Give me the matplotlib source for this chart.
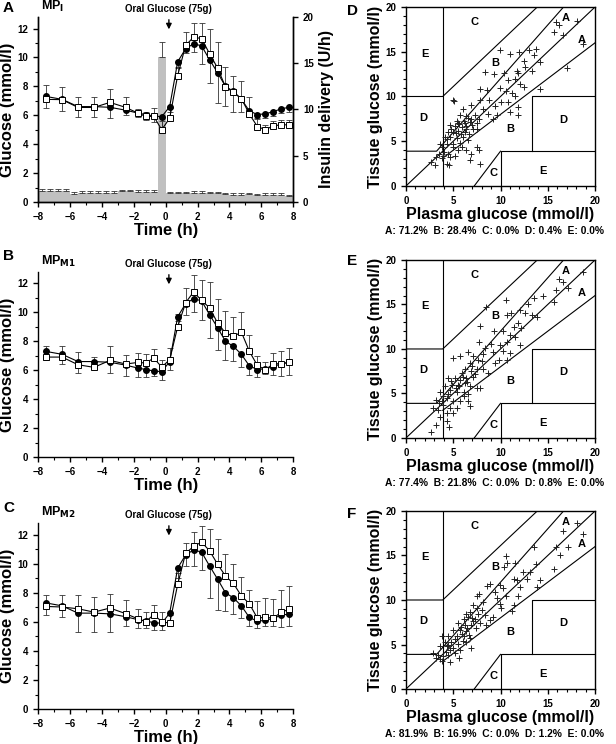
import numpy as np
import matplotlib
matplotlib.use("Agg")
import matplotlib.pyplot as plt
from matplotlib.ticker import MultipleLocator

plt.rcParams['font.family'] = ['Liberation Sans', 'DejaVu Sans']
plt.rcParams['font.weight'] = 'bold'
plt.rcParams['axes.labelweight'] = 'bold'
plt.rcParams['axes.linewidth'] = 1.0

# ---- time course data ----
time_h = [-7.5, -6.5, -5.5, -4.5, -3.5, -2.5, -1.75, -1.25, -0.75, -0.25, 0.25, 0.75, 1.25,
          1.75, 2.25, 2.75, 3.25, 3.75, 4.25, 4.75, 5.25, 5.75, 6.25, 6.75, 7.25, 7.75]
plasma = [7.3, 7.1, 6.6, 6.6, 6.55, 6.35, 6.15, 6.05, 5.95, 5.9, 6.6, 9.7, 10.6,
          10.95, 10.8, 9.85, 8.95, 8.0, 7.65, 7.1, 6.3, 6.05, 6.1, 6.25, 6.45, 6.55]

tissue_A = [7.1, 7.08, 6.54, 6.54, 6.89, 6.54, 6.15, 5.92, 5.92, 5.0, 5.8, 8.75, 10.83,
            11.41, 11.3, 10.26, 9.28, 7.96, 7.59, 7.15, 6.08, 5.22, 5.0, 5.27, 5.34, 5.34]
up_A = [1.0, 0.85, 0.75, 0.75, 0.9, 0.75, 0.3, 0.3, 0.6, 0.6, 0.7, 0.6, 0.9,
        0.95, 1.1, 1.7, 1.8, 1.35, 1.15, 1.2, 1.2, 0.6, 0.35, 0.35, 0.35, 0.35]
lo_A = [0.8, 0.8, 0.75, 0.75, 0.75, 0.3, 0.3, 0.35, 0.4, 0.7, 0.4, 0.4, 0.3,
        0.55, 1.25, 1.65, 2.1, 1.35, 1.4, 0.9, 0.4, 0.3, 0.3, 0.3, 0.3, 0.3]

tissue_B = [6.91, 6.91, 6.38, 6.2, 6.68, 6.43, 6.54, 6.5, 6.84, 6.22, 6.73, 9.0, 10.67,
            11.42, 10.83, 10.32, 9.28, 8.58, 8.35, 8.63, 7.31, 6.33, 6.03, 6.45, 6.45, 6.54]
up_B = [0.8, 0.8, 0.85, 0.7, 1.0, 0.65, 0.65, 0.6, 0.65, 0.5, 0.8, 0.9, 1.05,
        1.2, 1.4, 1.75, 1.65, 1.5, 1.3, 1.4, 1.15, 0.65, 0.55, 0.75, 0.9, 1.0]
lo_B = [0.6, 0.7, 0.8, 0.45, 0.75, 0.75, 0.6, 0.5, 0.35, 0.55, 0.6, 0.3, 0.8,
        0.9, 1.3, 1.6, 1.55, 1.3, 1.0, 0.85, 0.6, 0.5, 0.35, 0.55, 0.85, 0.9]

tissue_C = [7.06, 7.02, 6.9, 6.67, 6.95, 6.56, 6.21, 6.02, 6.49, 6.02, 5.9, 8.57, 10.72,
            11.19, 11.49, 10.89, 9.98, 9.15, 8.64, 7.78, 7.25, 6.25, 6.32, 6.25, 6.67, 6.86]
up_C = [0.77, 0.81, 0.93, 1.03, 1.0, 0.92, 0.69, 0.65, 0.64, 0.65, 0.6, 0.8, 0.7,
        0.97, 1.13, 1.52, 1.72, 1.51, 1.32, 1.28, 0.93, 1.21, 1.32, 1.3, 1.51, 1.62]
lo_C = [0.81, 0.8, 1.32, 1.3, 1.25, 0.65, 0.55, 0.5, 0.48, 0.45, 0.6, 0.7, 0.75,
        1.1, 1.25, 2.2, 2.16, 1.28, 1.09, 0.82, 0.56, 0.47, 0.4, 0.55, 0.82, 0.81]

# insulin delivery (U/h), half-hour bins
ins_t = list(np.arange(-7.75, 8.0, 0.5))
ins_rate = [1.2, 1.2, 1.2, 1.2, 0.9, 0.95, 1.0, 1.0, 0.95, 1.0, 1.15, 1.15, 1.05, 1.05, 1.1, 15.7,
            0.95, 0.95, 0.95, 1.0, 1.0, 0.95, 0.95, 0.85, 0.8, 0.8, 0.85, 0.75, 0.8, 0.8, 0.8, 0.6]
ins_err = [0.2] * 15 + [1.6] + [0.15] * 16

# ---- Clarke error grid points (plasma, tissue) ----
pts_D = [(15.9, 18.3), (16.2, 17.95), (15.7, 17.2), (16.6, 16.9), (18.1, 18.4), (18.7, 15.9),
         (17.0, 13.2), (14.2, 10.8), (9.9, 15.2), (11.0, 14.7), (12.0, 15.0), (13.0, 15.2),
         (13.8, 15.3), (13.5, 14.6), (12.5, 14.0), (14.2, 13.9), (8.4, 12.7), (9.3, 12.5),
         (10.4, 12.6), (11.7, 12.8), (11.8, 12.6), (12.6, 13.3), (13.3, 12.9), (10.8, 11.8),
         (11.5, 12.0), (12.1, 11.4), (12.5, 11.1), (7.8, 10.8), (8.6, 10.7), (9.9, 10.9),
         (10.6, 10.6), (11.2, 10.4), (11.5, 10.1), (5.1, 9.5), (6.0, 8.6), (6.9, 9.0),
         (7.8, 9.6), (8.8, 9.6), (9.4, 8.9), (10.1, 9.4), (10.8, 9.4), (11.0, 8.3),
         (11.9, 8.8), (11.8, 7.9), (8.2, 8.6), (8.7, 8.1), (9.6, 7.9), (9.2, 7.5),
         (5.7, 7.9), (6.4, 7.8), (7.3, 7.9), (7.7, 7.5), (5.4, 7.3), (6.1, 7.3), (6.8, 7.2),
         (7.5, 7.0), (4.7, 6.8), (5.2, 6.7), (5.9, 6.6), (6.4, 6.7), (7.1, 6.4), (7.5, 6.4),
         (4.5, 6.0), (5.0, 6.0), (5.5, 6.1), (6.2, 6.0), (6.7, 5.8), (4.1, 5.5), (4.7, 5.5),
         (5.4, 5.4), (6.0, 5.5), (6.6, 5.1), (7.5, 4.4), (7.7, 4.0), (6.9, 3.6), (5.7, 4.8),
         (5.0, 4.7), (4.3, 4.7), (3.8, 4.4), (4.0, 3.8), (3.5, 3.6), (4.5, 3.6), (5.2, 3.4),
         (3.2, 3.2), (3.8, 3.1), (4.3, 2.5), (4.6, 2.4), (3.1, 2.3), (2.6, 2.7), (6.4, 4.0),
         (5.9, 4.4), (7.8, 2.5), (6.8, 2.9), (5.0, 9.6), (4.8, 6.4), (5.5, 7.0), (6.2, 7.0),
         (6.9, 7.5), (4.3, 5.2), (3.6, 4.7), (5.0, 4.4), (5.5, 4.0), (3.9, 3.4), (4.7, 3.2),
         (5.8, 5.8), (6.3, 6.4), (5.3, 5.9), (7.0, 6.8), (6.6, 7.6), (5.6, 6.9)]

pts_E = [(18.7, 18.6), (16.2, 17.9), (16.6, 17.5), (17.1, 16.9), (15.9, 16.6), (15.7, 15.3),
         (14.5, 15.9), (13.5, 15.7), (13.9, 13.6), (13.3, 13.8), (12.6, 14.0), (12.1, 14.4),
         (12.9, 15.0), (8.5, 14.7), (10.6, 15.5), (10.7, 13.8), (11.1, 14.0), (11.9, 12.9),
         (11.4, 12.5), (12.2, 12.3), (7.8, 12.6), (9.3, 12.0), (10.3, 12.0), (11.0, 11.6),
         (11.5, 11.3), (12.1, 10.5), (10.7, 10.8), (9.9, 10.5), (7.7, 10.8), (8.4, 10.1),
         (9.2, 9.7), (10.3, 9.8), (11.0, 9.5), (9.8, 8.8), (10.7, 8.8), (9.4, 8.4),
         (5.0, 9.0), (5.7, 9.2), (6.6, 9.7), (7.1, 9.2), (7.6, 8.8), (8.0, 8.6), (6.8, 8.4),
         (8.2, 7.7), (8.7, 7.3), (7.5, 7.7), (6.9, 7.5), (6.2, 7.7), (4.5, 6.7), (5.2, 6.7),
         (5.7, 6.5), (6.4, 6.7), (7.1, 6.8), (4.8, 6.4), (5.5, 6.0), (6.2, 6.2), (6.8, 5.8),
         (7.5, 5.6), (7.8, 5.6), (4.1, 5.8), (4.7, 5.4), (5.4, 5.2), (6.1, 5.2), (6.6, 4.9),
         (3.6, 5.2), (3.9, 4.7), (4.3, 4.5), (5.0, 4.1), (5.7, 4.1), (6.6, 4.1), (6.8, 3.6),
         (5.4, 3.4), (3.2, 4.3), (3.5, 3.9), (3.9, 3.7), (2.9, 3.4), (3.4, 3.2), (4.3, 2.8),
         (3.6, 2.4), (4.3, 1.9), (4.6, 1.2), (3.2, 1.5), (2.6, 0.7), (4.7, 3.4), (5.0, 2.8),
         (6.1, 4.7), (5.6, 5.8), (6.0, 6.9), (7.3, 7.2), (5.3, 5.6), (6.5, 6.3), (4.4, 4.9),
         (7.0, 8.1), (8.1, 9.4), (9.0, 10.6), (3.8, 4.2), (5.9, 7.3), (4.9, 5.9)]

pts_F = [(18.1, 18.7), (16.6, 17.8), (18.7, 17.4), (15.9, 16.0), (16.3, 15.1), (17.1, 15.9),
         (15.7, 13.5), (13.5, 15.9), (14.2, 12.2), (13.9, 11.5), (13.8, 14.1), (10.6, 14.9),
         (10.7, 14.2), (11.5, 14.2), (10.4, 13.7), (12.4, 13.1), (13.1, 13.2), (12.8, 12.4),
         (11.7, 12.2), (12.1, 11.5), (11.4, 12.4), (8.6, 11.6), (8.9, 11.8), (9.9, 11.7),
         (10.3, 11.3), (10.6, 10.4), (11.9, 10.4), (7.7, 10.7), (7.5, 10.4), (9.6, 10.2),
         (9.9, 9.6), (10.1, 9.1), (11.4, 9.4), (11.2, 8.8), (7.1, 9.4), (7.5, 9.1), (6.8, 8.7),
         (8.0, 8.9), (8.4, 8.3), (9.2, 8.1), (8.9, 7.8), (6.1, 7.9), (6.6, 8.1), (7.3, 7.9),
         (7.8, 7.4), (8.5, 7.2), (5.5, 7.4), (6.2, 7.2), (6.9, 7.2), (7.4, 6.8), (5.0, 6.6),
         (5.7, 6.6), (6.4, 6.5), (4.5, 5.9), (5.4, 5.9), (6.1, 5.9), (6.8, 5.7), (3.8, 5.9),
         (4.1, 5.3), (4.8, 5.3), (5.5, 5.1), (6.4, 5.3), (6.9, 4.6), (3.6, 4.8), (4.3, 4.8),
         (5.0, 4.6), (5.7, 4.4), (2.9, 4.0), (3.4, 3.8), (3.9, 3.7), (4.5, 3.8), (5.2, 4.0),
         (5.6, 3.5), (3.8, 3.1), (4.7, 3.0), (3.2, 3.5), (5.9, 6.2), (6.5, 6.9), (7.1, 7.6),
         (5.2, 5.6), (4.7, 4.4), (6.0, 5.4), (6.7, 6.1), (7.6, 8.4), (5.8, 7.0), (4.4, 5.0),
         (3.6, 3.4), (4.2, 4.2), (8.2, 9.8), (9.4, 10.9), (6.3, 8.4), (7.0, 8.0)]

zone_text = ["A: 71.2%  B: 28.4%  C: 0.0%  D: 0.4%  E: 0.0%",
             "A: 77.4%  B: 21.8%  C: 0.0%  D: 0.8%  E: 0.0%",
             "A: 81.9%  B: 16.9%  C: 0.0%  D: 1.2%  E: 0.0%"]

fig = plt.figure(figsize=(6.16, 7.44), dpi=100)

left_boxes = [[0.062, 0.7285, 0.414, 0.2487],
              [0.062, 0.3858, 0.414, 0.2487],
              [0.062, 0.047, 0.414, 0.25]]
right_boxes = [[0.659, 0.75, 0.307, 0.2406],
               [0.659, 0.4113, 0.307, 0.2393],
               [0.659, 0.0739, 0.307, 0.2393]]

tissue_sets = [tissue_A, tissue_B, tissue_C]
up_sets = [up_A, up_B, up_C]
lo_sets = [lo_A, lo_B, lo_C]
mp_labels = [r'MP$_{\mathrm{I}}$', r'MP$_{\mathrm{M1}}$', r'MP$_{\mathrm{M2}}$']


def style_ticks(ax):
    ax.tick_params(which='major', direction='out', length=3.5, width=1, labelsize=7)
    ax.tick_params(which='minor', direction='out', length=2, width=0.8)
    for lab in ax.get_xticklabels() + ax.get_yticklabels():
        lab.set_fontweight('bold')


for i in range(3):
    ax = fig.add_axes(left_boxes[i])
    if i == 0:
        ax2 = ax.twinx()
        ax2.bar(ins_t, ins_rate, width=0.5, color='#c0c0c0', zorder=1)
        ax2.errorbar(ins_t, ins_rate, yerr=[np.zeros(len(ins_err)), ins_err], fmt='none',
                     ecolor='#333333', elinewidth=0.6, capsize=2, capthick=0.6)
        ax2.set_ylim(0, 20)
        ax2.yaxis.set_major_locator(MultipleLocator(5))
        ax2.set_ylabel('Insulin delivery (U/h)', fontsize=11.5)
        ax2.spines['top'].set_visible(False)
        style_ticks(ax2)
        ax.set_zorder(ax2.get_zorder() + 1)
        ax.patch.set_visible(False)
    tis = tissue_sets[i]
    ax.errorbar(time_h, tis, yerr=[np.zeros(len(tis)), up_sets[i]], fmt='none',
                ecolor='#333333', elinewidth=0.6, capsize=2, capthick=0.6, zorder=2)
    ax.errorbar(time_h, plasma, yerr=[lo_sets[i], np.zeros(len(plasma))], fmt='none',
                ecolor='#333333', elinewidth=0.6, capsize=2, capthick=0.6, zorder=2)
    ax.plot(time_h, plasma, '-o', color='black', lw=0.8, ms=4, zorder=3)
    ax.plot(time_h, tis, '-s', color='black', mfc='white', mec='black', mew=0.7,
            lw=0.8, ms=4, zorder=4)
    ax.set_xlim(-8, 8)
    ax.set_ylim(0, 12.8)
    ax.xaxis.set_major_locator(MultipleLocator(2))
    ax.xaxis.set_minor_locator(MultipleLocator(1))
    ax.yaxis.set_major_locator(MultipleLocator(2))
    ax.yaxis.set_minor_locator(MultipleLocator(1))
    ax.spines['top'].set_visible(False)
    if i > 0:
        ax.spines['right'].set_visible(False)
    style_ticks(ax)
    ax.set_xlabel('Time (h)', fontsize=12, labelpad=1)
    ax.set_ylabel('Glucose (mmol/l)', fontsize=12, labelpad=2)
    ax.text(0.01, 1.015, mp_labels[i], transform=ax.transAxes, fontsize=9, fontweight='bold',
            ha='left', va='bottom')
    ax.text(0.2, 13.0, 'Oral Glucose (75g)', fontsize=7, fontweight='bold',
            ha='center', va='bottom', clip_on=False)
    ax.annotate('', xy=(0.2, 11.75), xytext=(0.2, 12.8),
                arrowprops=dict(arrowstyle='-|>', color='black', lw=1.0,
                                mutation_scale=8), annotation_clip=False)


def clarke_grid(ax):
    lw = 0.8
    segs = [([0, 20], [0, 20]),
            ([0, 3.24, 16.67], [3.89, 3.89, 20]),
            ([3.89, 20], [3.11, 16.0]),
            ([0, 3.89, 13.89], [10, 10, 20]),
            ([3.89, 3.89], [0, 20]),
            ([7.22, 10], [0, 3.89]),
            ([10, 10, 20], [0, 3.89, 3.89]),
            ([13.33, 13.33, 20], [3.89, 10, 10])]
    for xs, ys in segs:
        ax.plot(xs, ys, color='black', lw=lw, zorder=1)
    labels = [(7.3, 18.3, 'C'), (2.0, 14.8, 'E'), (9.4, 13.7, 'B'), (16.9, 18.8, 'A'),
              (18.6, 16.3, 'A'), (1.8, 7.6, 'D'), (11.0, 6.4, 'B'), (16.6, 7.4, 'D'),
              (9.3, 1.5, 'C'), (14.5, 1.7, 'E')]
    for x, y, s in labels:
        ax.text(x, y, s, fontsize=8, fontweight='bold', ha='center', va='center', zorder=3)


panel_pts = [pts_D, pts_E, pts_F]
for i in range(3):
    ax = fig.add_axes(right_boxes[i])
    clarke_grid(ax)
    px = [p[0] for p in panel_pts[i]]
    py = [p[1] for p in panel_pts[i]]
    ax.scatter(px, py, marker='+', s=22, color='#222222', linewidths=0.7, zorder=2)
    ax.set_xlim(0, 20)
    ax.set_ylim(0, 20)
    ax.xaxis.set_major_locator(MultipleLocator(5))
    ax.xaxis.set_minor_locator(MultipleLocator(1))
    ax.yaxis.set_major_locator(MultipleLocator(5))
    ax.yaxis.set_minor_locator(MultipleLocator(1))
    style_ticks(ax)
    ax.set_xlabel('Plasma glucose (mmol/l)', fontsize=11.5, labelpad=1)
    ax.set_ylabel('Tissue glucose (mmol/l)', fontsize=11.5, labelpad=2)
    ax.text(0.47, -0.225, zone_text[i], transform=ax.transAxes, fontsize=7.4,
            fontweight='bold', ha='center', va='top')

for lab, x, y in [('A', 0.005, 0.998), ('B', 0.005, 0.665), ('C', 0.005, 0.326),
                  ('D', 0.563, 0.994), ('E', 0.563, 0.658), ('F', 0.563, 0.319)]:
    fig.text(x, y, lab, fontsize=11, fontweight='bold', ha='left', va='top')

fig.savefig('out.png', dpi=100)
